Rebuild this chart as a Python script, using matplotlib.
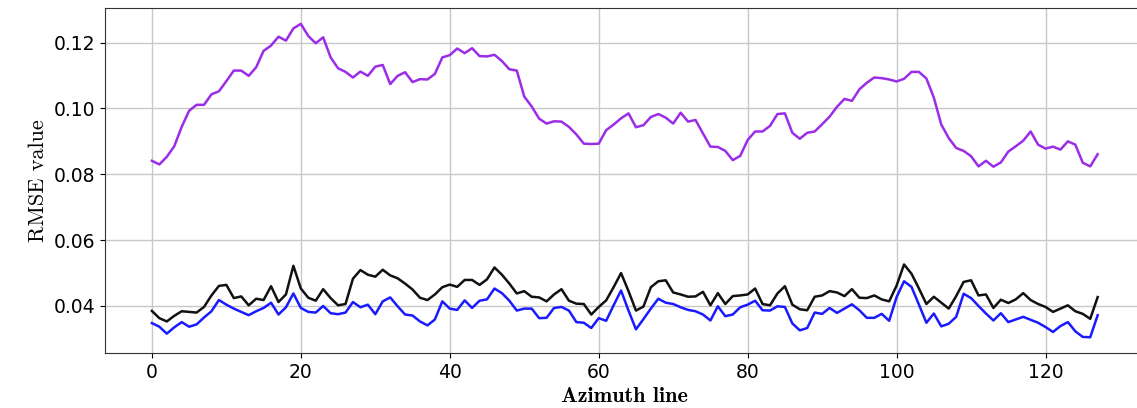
import numpy as np
import matplotlib.pyplot as plt

# RMSE per azimuth line
azimuth = np.arange(128)

rmse_purple = [
    0.0841, 0.0830, 0.0853, 0.0885, 0.0944, 0.0993, 0.1011, 0.1011, 0.1043, 0.1052,
    0.1083, 0.1115, 0.1115, 0.1099, 0.1125, 0.1175, 0.1191, 0.1218, 0.1206, 0.1243,
    0.1257, 0.1220, 0.1198, 0.1216, 0.1155, 0.1122, 0.1111, 0.1094, 0.1112, 0.1099,
    0.1127, 0.1132, 0.1074, 0.1099, 0.1110, 0.1080, 0.1089, 0.1088, 0.1105, 0.1155,
    0.1162, 0.1182, 0.1168, 0.1183, 0.1159, 0.1158, 0.1163, 0.1144, 0.1119, 0.1115,
    0.1036, 0.1006, 0.0969, 0.0954, 0.0961, 0.0960, 0.0944, 0.0921, 0.0893, 0.0892,
    0.0893, 0.0934, 0.0951, 0.0970, 0.0985, 0.0943, 0.0949, 0.0974, 0.0983, 0.0972,
    0.0954, 0.0987, 0.0960, 0.0965, 0.0924, 0.0884, 0.0883, 0.0871, 0.0843, 0.0856,
    0.0904, 0.0930, 0.0930, 0.0947, 0.0983, 0.0985, 0.0926, 0.0908, 0.0926, 0.0930,
    0.0952, 0.0975, 0.1005, 0.1029, 0.1023, 0.1058, 0.1078, 0.1094, 0.1092, 0.1088,
    0.1082, 0.1090, 0.1111, 0.1111, 0.1091, 0.1033, 0.0951, 0.0910, 0.0880, 0.0871,
    0.0855, 0.0824, 0.0841, 0.0823, 0.0836, 0.0869, 0.0885, 0.0902, 0.0930, 0.0890,
    0.0878, 0.0884, 0.0875, 0.0900, 0.0890, 0.0835, 0.0824, 0.0861,
]

rmse_black = [
    0.0385, 0.0363, 0.0353, 0.0370, 0.0384, 0.0382, 0.0380, 0.0397, 0.0432, 0.0461,
    0.0464, 0.0424, 0.0429, 0.0402, 0.0422, 0.0418, 0.0460, 0.0412, 0.0435, 0.0522,
    0.0453, 0.0425, 0.0416, 0.0451, 0.0424, 0.0402, 0.0406, 0.0483, 0.0509, 0.0495,
    0.0489, 0.0510, 0.0493, 0.0484, 0.0468, 0.0450, 0.0425, 0.0418, 0.0435, 0.0457,
    0.0465, 0.0458, 0.0479, 0.0479, 0.0464, 0.0481, 0.0517, 0.0495, 0.0468, 0.0438,
    0.0445, 0.0428, 0.0426, 0.0414, 0.0435, 0.0451, 0.0416, 0.0407, 0.0406, 0.0374,
    0.0397, 0.0417, 0.0457, 0.0500, 0.0445, 0.0386, 0.0398, 0.0457, 0.0475, 0.0478,
    0.0441, 0.0435, 0.0428, 0.0429, 0.0443, 0.0402, 0.0439, 0.0406, 0.0430, 0.0432,
    0.0435, 0.0453, 0.0406, 0.0402, 0.0438, 0.0460, 0.0404, 0.0390, 0.0387, 0.0428,
    0.0432, 0.0445, 0.0441, 0.0430, 0.0451, 0.0425, 0.0424, 0.0432, 0.0420, 0.0414,
    0.0462, 0.0526, 0.0498, 0.0453, 0.0406, 0.0428, 0.0410, 0.0392, 0.0430, 0.0473,
    0.0478, 0.0432, 0.0435, 0.0394, 0.0419, 0.0409, 0.0420, 0.0439, 0.0418, 0.0406,
    0.0397, 0.0382, 0.0392, 0.0402, 0.0384, 0.0376, 0.0361, 0.0427,
]

rmse_blue = [
    0.0348, 0.0337, 0.0316, 0.0335, 0.0351, 0.0337, 0.0344, 0.0365, 0.0384, 0.0418,
    0.0404, 0.0392, 0.0382, 0.0372, 0.0384, 0.0394, 0.0410, 0.0374, 0.0396, 0.0438,
    0.0394, 0.0382, 0.0380, 0.0400, 0.0378, 0.0375, 0.0380, 0.0412, 0.0396, 0.0404,
    0.0375, 0.0414, 0.0426, 0.0399, 0.0374, 0.0371, 0.0353, 0.0341, 0.0359, 0.0414,
    0.0392, 0.0388, 0.0417, 0.0394, 0.0416, 0.0420, 0.0453, 0.0439, 0.0416, 0.0386,
    0.0392, 0.0392, 0.0363, 0.0364, 0.0394, 0.0397, 0.0386, 0.0351, 0.0349, 0.0333,
    0.0363, 0.0355, 0.0402, 0.0447, 0.0386, 0.0329, 0.0360, 0.0392, 0.0422, 0.0410,
    0.0406, 0.0396, 0.0388, 0.0384, 0.0374, 0.0356, 0.0399, 0.0369, 0.0374, 0.0396,
    0.0404, 0.0416, 0.0387, 0.0386, 0.0399, 0.0397, 0.0347, 0.0326, 0.0333, 0.0380,
    0.0376, 0.0394, 0.0379, 0.0392, 0.0405, 0.0387, 0.0364, 0.0364, 0.0376, 0.0355,
    0.0427, 0.0475, 0.0458, 0.0404, 0.0349, 0.0377, 0.0338, 0.0346, 0.0367, 0.0437,
    0.0424, 0.0400, 0.0377, 0.0356, 0.0378, 0.0351, 0.0359, 0.0367, 0.0358, 0.0349,
    0.0336, 0.0321, 0.0339, 0.0351, 0.0323, 0.0306, 0.0305, 0.0372,
]

fig = plt.figure(figsize=(11.37, 4.08), dpi=100)
# the original is cropped on the right, so the axes runs past the figure edge
ax = fig.add_axes([0.092, 0.135, 0.915, 0.845])

ax.plot(azimuth, rmse_purple, color="#9b2de8", lw=1.8)
ax.plot(azimuth, rmse_blue, color="#1a1aff", lw=1.8)
ax.plot(azimuth, rmse_black, color="#111111", lw=1.8)

ax.grid(True, color="#c8c8c8", lw=1.0)
ax.set_axisbelow(True)
ax.set_xticks([0, 20, 40, 60, 80, 100, 120])
ax.set_yticks([0.04, 0.06, 0.08, 0.10, 0.12])
ax.tick_params(labelsize=13.5)
for s in ax.spines.values():
    s.set_color("#333333")

ax.set_xlabel("Azimuth line", family="cmb10", fontsize=16)
ax.set_ylabel("RMSE value", family="cmr10", fontsize=16)

fig.savefig("out.png", dpi=100)
